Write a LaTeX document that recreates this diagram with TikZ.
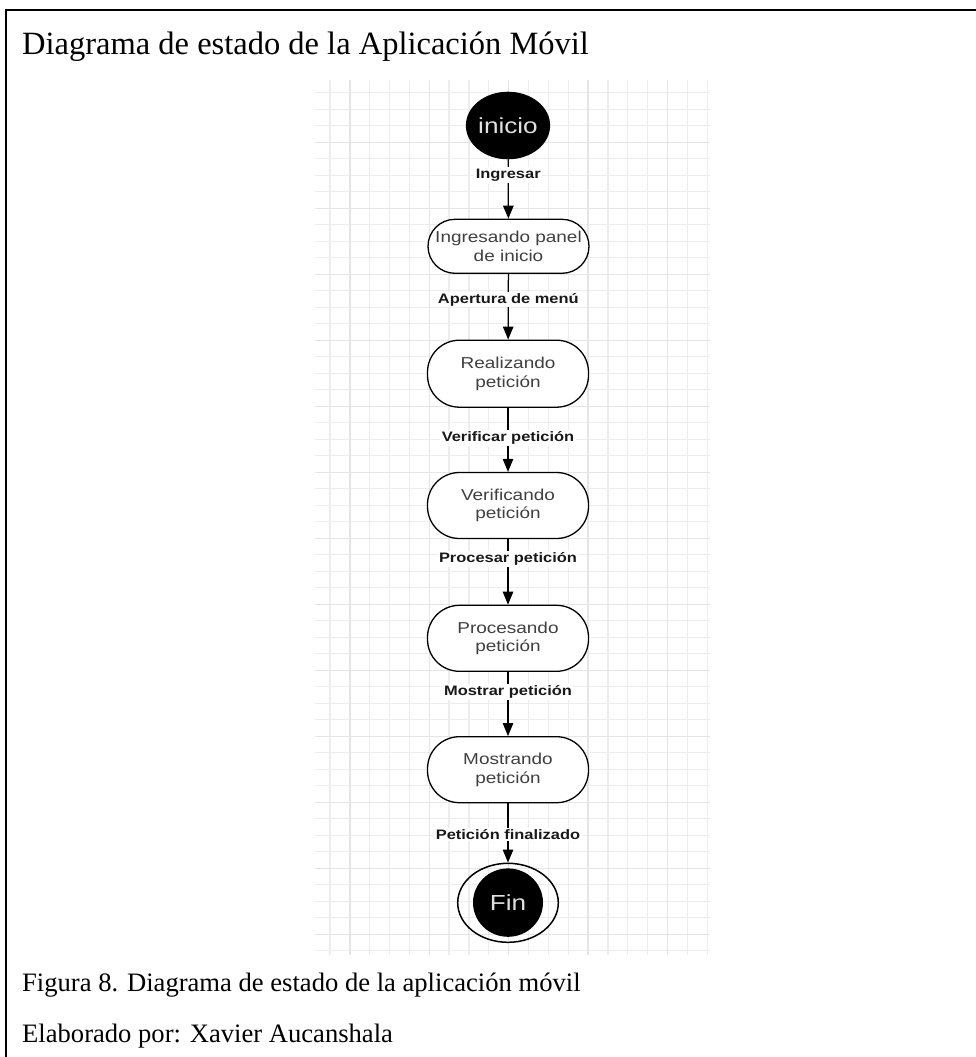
\documentclass[tikz,border=0pt]{standalone}
\usepackage{fontspec}
\setmainfont{Liberation Serif}
\newfontfamily\diagsans[FakeStretch=1.2]{Liberation Sans}
\usetikzlibrary{shapes.geometric,arrows.meta}

\tikzset{
  gridminor/.style={line width=1.3pt, draw=black!7},
  gridmajor/.style={line width=1.4pt, draw=black!10},
  statebox/.style={draw, line width=1.3pt, rounded corners=32pt, fill=white,
    minimum width=161pt, minimum height=66pt, inner sep=0pt, align=center,
    text=black!75, font=\diagsans\fontsize{15.8}{18.5}\selectfont},
  terminal/.style={ellipse, fill=black, inner sep=0pt, text=white!88!black,
    font=\diagsans\fontsize{21.8}{24}\selectfont},
  lbl/.style={fill=white, inner sep=1.5pt, text=black!90,
    font=\diagsans\bfseries\fontsize{13.7}{15}\selectfont},
  arr/.style={line width=1.25pt, -{Triangle[width=10.5pt,length=13pt]}},
  doctext/.style={anchor=base west, inner sep=0pt, text=black}
}

\begin{document}
\begin{tikzpicture}[x=1pt,y=-1pt]
\useasboundingbox (0,0) rectangle (976,1057);

% page frame (top and left edges)
\draw[line width=2.5pt, line join=miter] (6,1060) -- (6,10) -- (980,10);

% document text
\node[doctext, font=\fontsize{32.5}{36}\selectfont] (title) at (22,55)
  {Diagrama de estado de la Aplicación Móvil};
\node[doctext, font=\fontsize{26.6}{30}\selectfont] (caption) at (22,991)
  {Figura 8. Diagrama de estado de la aplicación móvil};
\node[doctext, font=\fontsize{26.6}{30}\selectfont] (author) at (22,1042)
  {Elaborado por: Xavier Aucanshala};

% background grid
\foreach \j in {0,...,19}
  \draw[gridminor] ({330+19.85*\j},80) -- ({330+19.85*\j},955);
\foreach \k in {0,...,52}
  \draw[gridminor] (315,{92.7+16.5*\k}) -- (710,{92.7+16.5*\k});
\foreach \j in {1,5,9,13,17}
  \draw[gridmajor] ({330+19.85*\j},80) -- ({330+19.85*\j},955);
\foreach \k in {3,7,...,51}
  \draw[gridmajor] (315,{92.7+16.5*\k}) -- (710,{92.7+16.5*\k});

% states
\node[terminal, minimum width=82.6pt, minimum height=67.6pt] (inicio) at (508,125.5) {inicio};
\node[statebox, minimum height=54pt, rounded corners=27pt] (s1) at (508.5,246.3) {Ingresando panel\\de inicio};
\node[statebox, minimum height=67pt] (s2) at (508,373.7) {Realizando\\petición};
\node[statebox] (s3) at (508,505.5) {Verificando\\petición};
\node[statebox] (s4) at (508,638.3) {Procesando\\petición};
\node[statebox] (s5) at (508,769.7) {Mostrando\\petición};
\node[ellipse, draw, line width=1.5pt, inner sep=0pt, minimum width=100.6pt, minimum height=79pt] (finring) at (508,902.8) {};
\node[terminal, minimum width=70pt, minimum height=68.4pt] (fin) at (508,902.6) {Fin};

% transitions
\draw[arr] (inicio) -- (s1) node[lbl, pos=0.26] (t1) {Ingresar};
\draw[arr] (s1) -- (s2) node[lbl, pos=0.39] (t2) {Apertura de menú};
\draw[arr] (s2) -- (s3) node[lbl, pos=0.47] (t3) {Verificar petición};
\draw[arr] (s3) -- (s4) node[lbl, pos=0.30] (t4) {Procesar petición};
\draw[arr] (s4) -- (s5) node[lbl, pos=0.31] (t5) {Mostrar petición};
\draw[arr] (s5) -- (finring) node[lbl, pos=0.53] (t6) {Petición finalizado};
\end{tikzpicture}
\end{document}
